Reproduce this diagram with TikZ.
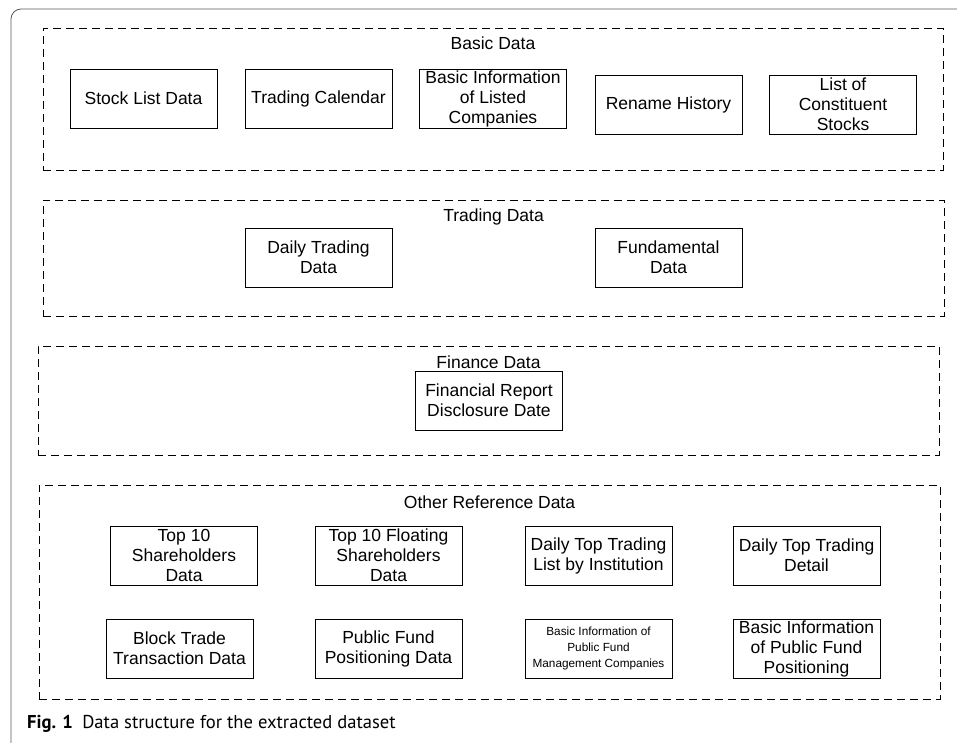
\documentclass[tikz,border=0pt]{standalone}
\usepackage{fontspec}
\setmainfont{Liberation Sans}
\newfontfamily\capfont{PT Sans}

\tikzset{
    databox/.style={draw, line width=0.9pt, minimum width=147pt, minimum height=59pt, inner sep=1pt, align=center, font=\fontsize{17.5}{20}\selectfont},
    groupbox/.style={draw, dash pattern=on 8pt off 5pt, line width=0.8pt, inner sep=0pt},
    grouptitle/.style={font=\fontsize{17.5}{20}\selectfont}
}

\begin{document}
\begin{tikzpicture}[x=1pt, y=-1pt]
    \useasboundingbox(0,0) rectangle (957,743);
    \draw[black!65, line width=0.8pt, rounded corners=10pt](11,9) rectangle (985,760);

    % basic data
    \node[groupbox, minimum width=900pt, minimum height=142pt](basic) at (493,99) {};
    \node[grouptitle](basictitle) at (493,43) {Basic Data};
    \node[databox](stocklist) at (143.5,98.5) {Stock List Data};
    \node[databox](calendar) at (318.5,98.5) {Trading Calendar};
    \node[databox](listedco) at (493,98.5) {Basic Information\\of Listed\\Companies};
    \node[databox](rename) at (668.5,104.5) {Rename History};
    \node[databox](constituent) at (843,104.5) {List of\\Constituent\\Stocks};

    % trading data
    \node[groupbox, minimum width=901pt, minimum height=116pt](trading) at (493.5,258) {};
    \node[grouptitle](tradingtitle) at (493.5,217) {Trading Data};
    \node[databox](dailytrading) at (318.5,257.5) {Daily Trading\\Data};
    \node[databox](fundamental) at (668.5,257.5) {Fundamental\\Data};

    % finance data
    \node[groupbox, minimum width=901pt, minimum height=109pt](finance) at (488.5,400.5) {};
    \node[grouptitle](financetitle) at (488.5,362) {Finance Data};
    \node[databox](finreport) at (489,400.5) {Financial Report\\Disclosure Date};

    % other reference data
    \node[groupbox, minimum width=901pt, minimum height=214pt](other) at (489.5,592) {};
    \node[grouptitle](othertitle) at (489.5,502) {Other Reference Data};
    \node[databox](topten) at (184,555.5) {Top 10\\Shareholders\\Data};
    \node[databox](toptenfloat) at (388.5,555.5) {Top 10 Floating\\Shareholders\\Data};
    \node[databox](toplist) at (598.5,555.5) {Daily Top Trading\\List by Institution};
    \node[databox](topdetail) at (806.5,555.5) {Daily Top Trading\\Detail};
    \node[databox](blocktrade) at (179.5,648.5) {Block Trade\\Transaction Data};
    \node[databox](fundpos) at (388.5,648.5) {Public Fund\\Positioning Data};
    \node[databox, font=\fontsize{11.8}{16}\selectfont](fundco) at (598.5,648.5) {Basic Information of\\Public Fund\\Management Companies};
    \node[databox](fundinfo) at (806.5,648.5) {Basic Information\\of Public Fund\\Positioning};

    \node[anchor=base west, inner sep=0pt, font=\capfont\fontsize{18.6}{20}\selectfont](caption) at (27,728) {\textbf{Fig. 1}\hspace{0.5em}Data structure for the extracted dataset};
\end{tikzpicture}
\end{document}
